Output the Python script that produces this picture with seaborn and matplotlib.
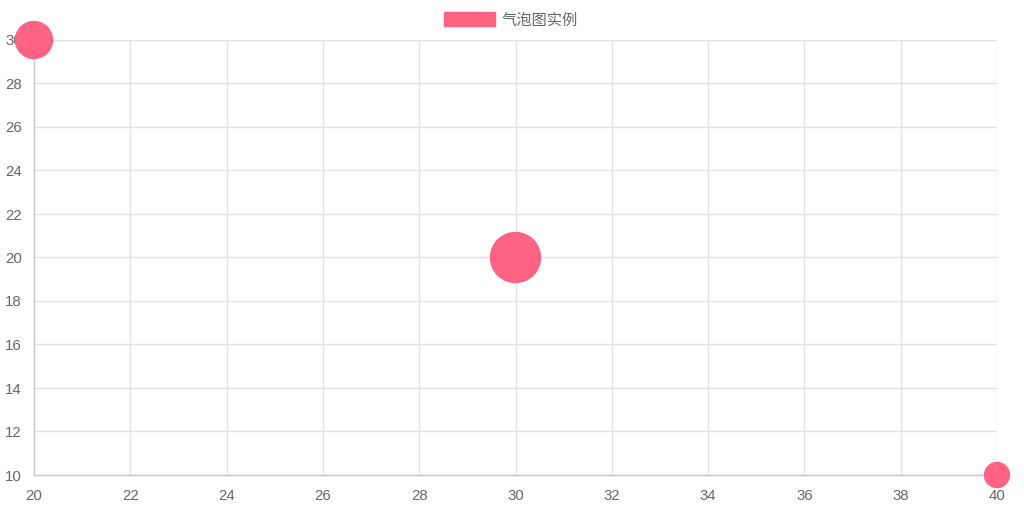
import seaborn as sns
import matplotlib.pyplot as plt
from matplotlib.patches import Patch
import pandas as pd

# bubble data (radius in pixels)
xs = [20, 30, 40]
ys = [30, 20, 10]
radii = [18.5, 25, 12.5]
label = "气泡图实例"
color = "#ff6384"

x_ticks = list(range(20, 41, 2))
y_ticks = list(range(10, 31, 2))

df = pd.DataFrame({'x': xs, 'y': ys, 'r': radii})
# matplotlib marker size is area in pt^2; 1 px = 0.72 pt at dpi 100
df['s'] = (2 * df['r'] * 0.72) ** 2

sns.set_style("white")
plt.rcParams['font.family'] = ['Liberation Sans', 'Noto Sans CJK SC', 'DejaVu Sans']

fig = plt.figure(figsize=(10.24, 5.11), dpi=100)
ax = fig.add_axes([34 / 1024, 1 - 475 / 511, 963 / 1024, 435 / 511])

sns.scatterplot(data=df, x='x', y='y', s=df['s'], color=color,
                edgecolor=color, linewidth=1, alpha=1, ax=ax,
                clip_on=False, zorder=5, legend=False)

ax.set_xlim(20, 40)
ax.set_ylim(10, 30)
ax.set_xticks(x_ticks)
ax.set_yticks(y_ticks)
ax.set_xlabel("")
ax.set_ylabel("")
ax.grid(True, color="#e2e2e2", linewidth=1)
ax.set_axisbelow(True)
ax.tick_params(axis='both', length=5.8, width=1, color="#e2e2e2",
               labelcolor="#666666", labelsize=10.8)
ax.tick_params(axis='x', pad=4.5)
ax.tick_params(axis='y', pad=3)

for side in ['top', 'right']:
    ax.spines[side].set_visible(False)
for side in ['left', 'bottom']:
    ax.spines[side].set_color("#c8c8c8")
    ax.spines[side].set_linewidth(1)

fig.legend(handles=[Patch(facecolor=color, edgecolor=color, label=label)],
           loc='center', bbox_to_anchor=(511 / 1024, 1 - 20 / 511),
           frameon=False, prop={'family': ['Noto Sans CJK SC'], 'size': 11},
           handlelength=3.3, handleheight=1.0, handletextpad=0.45,
           labelcolor="#666666")

fig.savefig("out.png", dpi=100)
